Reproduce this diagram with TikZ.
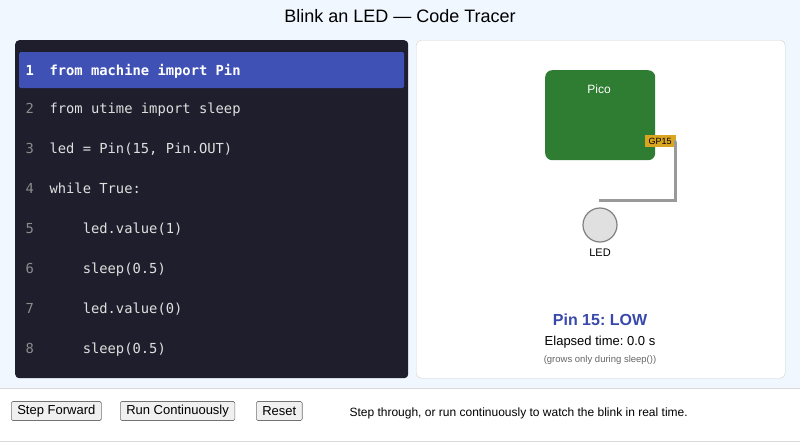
\documentclass[tikz,border=0pt]{standalone}
\usepackage{fontspec}
\setmainfont{Liberation Sans}
\setmonofont{DejaVu Sans Mono}
\frenchspacing
\begin{document}
\begin{tikzpicture}[x=1pt,y=-1pt,
  code/.style={anchor=base west,font=\ttfamily\fontsize{13.8}{16}\selectfont,text=#1},
  btn/.style={draw=black!55,fill=black!6,rounded corners=1.5pt,line width=0.6pt,minimum height=19pt,inner xsep=6pt,inner ysep=0pt,font=\fontsize{13}{15}\selectfont,anchor=west}]
\definecolor{bgblue}{HTML}{F0F7FF}
\definecolor{panel}{HTML}{1E1E2C}
\definecolor{hl}{HTML}{3F51B5}
\definecolor{pico}{HTML}{2E7D32}
\definecolor{gold}{HTML}{DAA520}
\definecolor{pinblue}{HTML}{3949AB}
\useasboundingbox (0,0) rectangle (800,442);
\fill[bgblue] (0,0) rectangle (800,388);
\fill[white] (0,388) rectangle (800,442);
\draw[black!15,line width=1pt] (0,388) -- (800,388);
\draw[black!15] (0,441.5) -- (800,441.5);
\node (title) at (400,16) {\fontsize{18}{20}\selectfont Blink an LED — Code Tracer};
% code panel
\node[fill=panel,rounded corners=4pt,minimum width=393pt,minimum height=338pt,inner sep=0,anchor=north west] (codep) at (15,40) {};
\fill[hl,rounded corners=1.5pt] (19,52) rectangle (404,88);
\foreach \n/\y/\t in {1/70/{from machine import Pin},2/108/{from utime import sleep},3/148/{led = Pin(15, Pin.OUT)},4/188/{while True:},5/228/{\ \ \ \ led.value(1)},6/268/{\ \ \ \ sleep(0.5)},7/308/{\ \ \ \ led.value(0)},8/348/{\ \ \ \ sleep(0.5)}}{
  \ifnum\n=1
    \node[code=white,font=\ttfamily\bfseries\fontsize{13.8}{16}\selectfont] (n\n) at (22,\y+5) {\n};
    \node[code=white,font=\ttfamily\bfseries\fontsize{13.8}{16}\selectfont] (c\n) at (46,\y+5) {\t};
  \else
    \node[code=black!45] (n\n) at (22,\y+5) {\n};
    \node[code=black!12] (c\n) at (46,\y+5) {\t};
  \fi
}
% right panel
\node[draw=black!18,fill=white,rounded corners=5pt,minimum width=369pt,minimum height=338pt,inner sep=0,anchor=north west] (rp) at (416,40) {};
\node[fill=pico,rounded corners=7pt,minimum width=110pt,minimum height=90pt,inner sep=0,anchor=north west] (pico) at (545,70) {};
\node[text=white,font=\fontsize{12}{14}\selectfont] (picol) at (599,89) {Pico};
\node[fill=gold,inner sep=0.5pt,minimum width=31pt,minimum height=12pt,font=\fontsize{9}{10}\selectfont] (gp) at (660,141) {GP15};
\coordinate (wend) at (599,200);
\draw[black!40,line width=3pt] (gp.east) -| (675,200) -- (wend);
\node[circle,draw=black!50,fill=black!12,line width=1.2pt,minimum size=34pt,inner sep=0] (led) at (600,225) {};
\node[font=\fontsize{11}{13}\selectfont] (ledl) at (600,253) {LED};
\node[text=pinblue,font=\bfseries\fontsize{16}{18}\selectfont] (pin) at (600,320) {Pin 15: LOW};
\node[font=\fontsize{13}{15}\selectfont] (el) at (600,342) {Elapsed time: 0.0 s};
\node[text=black!60,font=\fontsize{9.5}{11}\selectfont] (gr) at (600,360) {(grows only during sleep())};
% buttons
\node[btn] (b1) at (11,411) {Step Forward};
\node[btn] (b2) at (120,411) {Run Continuously};
\node[btn] (b3) at (256,411) {Reset};
\node[anchor=west,font=\fontsize{12}{14}\selectfont] (hint) at (346,413) {Step through, or run continuously to watch the blink in real time.};
\end{tikzpicture}
\end{document}
